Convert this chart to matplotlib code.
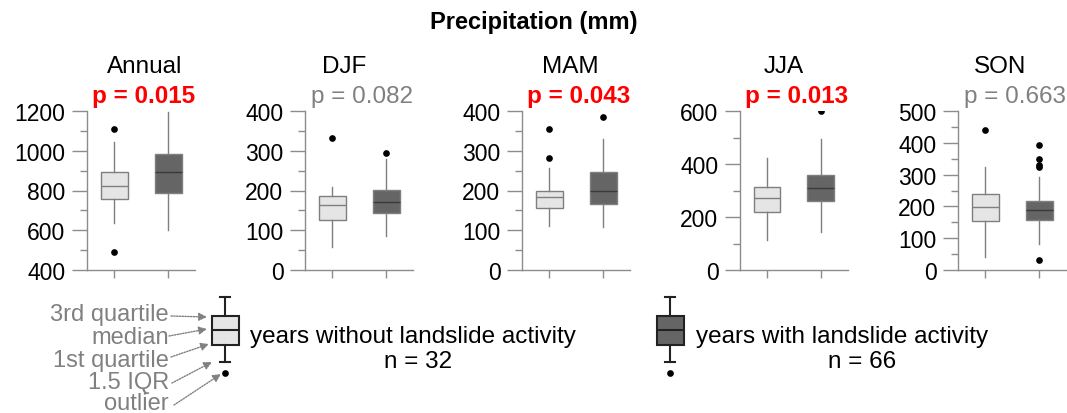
"""
Precipitation box plots: years with vs without landslide activity
"""

import matplotlib
matplotlib.use("Agg")
import matplotlib.pyplot as plt
from matplotlib.ticker import MultipleLocator, AutoMinorLocator

plt.rcParams["font.family"] = ["Liberation Sans", "DejaVu Sans"]

# ---- data ----
PANELS = ["Annual", "DJF", "MAM", "JJA", "SON"]
P_VALUES = [0.015, 0.082, 0.043, 0.013, 0.663]
Y_LIMITS = [(400, 1200), (0, 400), (0, 400), (0, 600), (0, 500)]
Y_STEPS = [200, 100, 100, 200, 100]

# [lower whisker, Q1, median, Q3, upper whisker]
WITHOUT_SUMMARY = [
    [637, 757, 821, 895, 1046],
    [58, 126, 164, 186, 210],
    [111, 155, 183, 200, 257],
    [114, 218, 273, 313, 422],
    [42, 154, 199, 238, 324],
]
WITHOUT_OUTLIERS = [[1111, 492], [332], [354, 281], [], [441]]

WITH_SUMMARY = [
    [601, 789, 895, 982, 1197],
    [85, 144, 170, 201, 279],
    [109, 166, 200, 246, 329],
    [142, 259, 311, 358, 496],
    [81, 157, 189, 217, 293],
]
WITH_OUTLIERS = [[], [294], [386], [599], [392, 350, 331, 324, 31]]

N_WITHOUT = 32
N_WITH = 66

LEGEND_NOTES = ["3rd quartile", "median", "1st quartile", "1.5 IQR", "outlier"]

# ---- style ----
W, H = 1067, 414
DPI = 100
LIGHT = "#e5e5e5"
DARK = "#656565"
EDGE = "#7f7f7f"
SPINE = "#8c8c8c"
GREY_TEXT = "#808080"
RED = "#ff0000"
FS = 17

AX_LEFT = [87, 305, 522, 740, 958]
AX_W = 108
AX_TOP, AX_BOTTOM = 112, 271
TITLE_SHIFT = [4, -15, -6, -10, -12]


def stats_dict(summary, fliers):
    lo, q1, med, q3, hi = summary
    return dict(whislo=lo, q1=q1, med=med, q3=q3, whishi=hi, fliers=fliers)


FLIER = dict(marker="o", markersize=3.8, markerfacecolor="black",
             markeredgecolor="black")

fig = plt.figure(figsize=(W / DPI, H / DPI), dpi=DPI)

for i, name in enumerate(PANELS):
    ax = fig.add_axes([AX_LEFT[i] / W, 1 - AX_BOTTOM / H,
                       AX_W / W, (AX_BOTTOM - AX_TOP) / H])
    stats = [stats_dict(WITHOUT_SUMMARY[i], WITHOUT_OUTLIERS[i]),
             stats_dict(WITH_SUMMARY[i], WITH_OUTLIERS[i])]
    for st, fc, mc, pos in zip(stats, [LIGHT, DARK], [EDGE, "#3a3a3a"], [1, 2]):
        ax.bxp([st], positions=[pos], widths=0.5, patch_artist=True,
               showcaps=False, manage_ticks=False,
               boxprops=dict(facecolor=fc, edgecolor=EDGE, linewidth=1),
               medianprops=dict(color=mc, linewidth=1),
               whiskerprops=dict(color=EDGE, linewidth=1),
               flierprops=FLIER)

    ax.set_xlim(0.5, 2.5)
    ax.set_ylim(*Y_LIMITS[i])
    ax.set_xticks([1, 2])
    ax.set_xticklabels([])
    ax.yaxis.set_major_locator(MultipleLocator(Y_STEPS[i]))
    ax.yaxis.set_minor_locator(AutoMinorLocator(2))
    ax.tick_params(axis="y", which="major", length=10.5, width=1, color=SPINE,
                   labelsize=FS - 0.5, pad=5)
    ax.tick_params(axis="y", which="minor", length=5, width=1, color=SPINE)
    ax.tick_params(axis="x", length=5.5, width=1, color=SPINE)
    for side in ["top", "right"]:
        ax.spines[side].set_visible(False)
    for side in ["left", "bottom"]:
        ax.spines[side].set_color(SPINE)
        ax.spines[side].set_linewidth(1)
    ax.set_facecolor("none")

# overlay in pixel coordinates for texts and legend
ov = fig.add_axes([0, 0, 1, 1])
ov.axis("off")
ov.set_facecolor("none")

ov.text(W / 2, 22, "Precipitation (mm)", ha="center", va="center",
        fontsize=FS, fontweight="bold")

for i, name in enumerate(PANELS):
    cx = AX_LEFT[i] + AX_W / 2
    ov.text(cx + TITLE_SHIFT[i], 73, name, ha="center", va="baseline",
            fontsize=FS + 0.5)
    p = P_VALUES[i]
    sig = p < 0.05
    ov.text(cx + 3, 103, f"p = {p:.3f}", ha="center", va="baseline",
            fontsize=FS + 0.5, color=RED if sig else GREY_TEXT,
            fontweight="bold" if sig else "normal")

# legend glyphs
leg_stats = dict(whislo=298, q1=317, med=331, q3=346, whishi=363, fliers=[374])
for cx, fc in [(225, LIGHT), (670, DARK)]:
    ov.bxp([dict(leg_stats)], positions=[cx], widths=27, patch_artist=True,
           showcaps=True, manage_ticks=False, capwidths=10,
           boxprops=dict(facecolor=fc, edgecolor="#222222", linewidth=1.5),
           medianprops=dict(color="#222222", linewidth=1.5),
           whiskerprops=dict(color="#222222", linewidth=1.5),
           capprops=dict(color="#222222", linewidth=1.5),
           flierprops=FLIER)
ov.set_xlim(0, W)
ov.set_ylim(H, 0)

ov.text(250, 343, "years without landslide activity", ha="left", va="baseline",
        fontsize=FS + 0.5)
ov.text(418, 368, f"n = {N_WITHOUT}", ha="center", va="baseline", fontsize=FS + 0.5)
ov.text(696, 343, "years with landslide activity", ha="left", va="baseline",
        fontsize=FS + 0.5)
ov.text(862, 368, f"n = {N_WITH}", ha="center", va="baseline", fontsize=FS + 0.5)

baselines = [321, 344, 367, 389, 410]
arrows = [((171, 317), (207, 318)), ((169, 337), (207, 330)),
          ((171, 358), (209, 345)), ((172, 384), (212, 363)),
          ((174, 406), (221, 375))]
for lab, yb, (start, end) in zip(LEGEND_NOTES, baselines, arrows):
    ov.text(169, yb, lab, ha="right", va="baseline", fontsize=FS, color=GREY_TEXT)
    ov.annotate("", xy=end, xytext=start,
                arrowprops=dict(arrowstyle="-|>", color=GREY_TEXT, lw=1,
                                linestyle=(0, (1, 1)), mutation_scale=12,
                                shrinkA=0, shrinkB=0))

fig.savefig("out.png", dpi=DPI)
